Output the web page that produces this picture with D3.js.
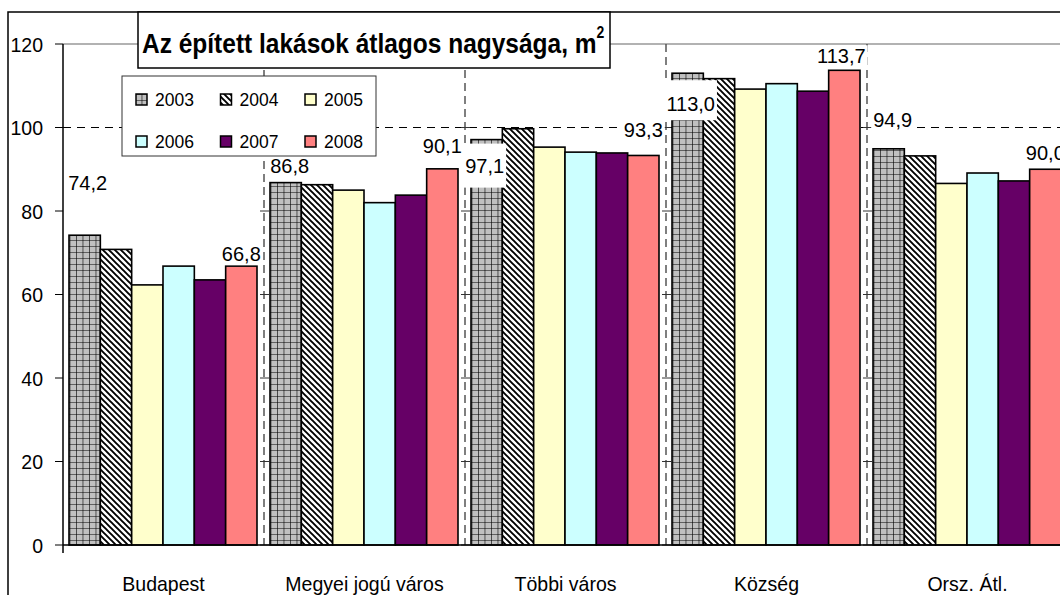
<!DOCTYPE html>
<html>
<head>
<meta charset="utf-8">
<script src="https://cdn.jsdelivr.net/npm/d3@7"></script>
<style>
  html, body { margin: 0; padding: 0; background: #fff; }
  svg { display: block; }
  text { font-family: "Liberation Sans", Arial, sans-serif; fill: #000; }
</style>
</head>
<body>
<svg id="chart" width="1060" height="595"></svg>
<script>
// Average floor area of newly built dwellings, m², by settlement type
const categories = ["Budapest", "Megyei jogú város", "Többi város", "Község", "Orsz. Átl."];
const years = ["2003", "2004", "2005", "2006", "2007", "2008"];
const s2003 = [74.2, 86.8, 97.1, 113.0, 94.9];
const s2004 = [70.8, 86.3, 99.7, 111.7, 93.2];
const s2005 = [62.3, 85.0, 95.3, 109.2, 86.6];
const s2006 = [66.8, 82.0, 94.1, 110.5, 89.1];
const s2007 = [63.5, 83.8, 93.9, 108.7, 87.2];
const s2008 = [66.8, 90.1, 93.3, 113.7, 90.0];
const yTicks = [0, 20, 40, 60, 80, 100, 120];
const titleText = "Az épített lakások átlagos nagysága, m";

// label placement: [dx, dy] from the top centre of the labelled bar,
// then how far the white label box reaches above / below the baseline
const labelNudge2003 = [[3, -45, 18, 4], [4, -10, 18, 4], [-2, 33, 29, 15], [3, 38, 31, 9], [4, -22, 18, 4]];
const labelNudge2008 = [[0, -5, 18, 4], [0, -16, 18, 4], [0, -18, 18, 4], [-3, -7, 18, 4], [0, -9, 18, 4]];

const series = [s2003, s2004, s2005, s2006, s2007, s2008];
const fills = ["url(#grid)", "url(#diag)", "#ffffcc", "#ccffff", "#660066", "#ff8080"];

const svg = d3.select("#chart");
const defs = svg.append("defs");

// 2003: grey with black cross-hatch grid
const pg = defs.append("pattern").attr("id", "grid").attr("patternUnits", "userSpaceOnUse")
  .attr("width", 6.5).attr("height", 6);
pg.append("rect").attr("width", 6.5).attr("height", 6).attr("fill", "#c0c0c0");
pg.append("path").attr("d", "M0,0 H6.5 M0,0 V6").attr("stroke", "#000").attr("stroke-width", 1.2);
// 2004: white with diagonal stripes
const pd = defs.append("pattern").attr("id", "diag").attr("patternUnits", "userSpaceOnUse")
  .attr("width", 6).attr("height", 6);
pd.append("rect").attr("width", 6).attr("height", 6).attr("fill", "#fff");
pd.append("path").attr("d", "M-1,-1 L7,7 M5,-1 L7,1 M-1,5 L1,7")
  .attr("stroke", "#000").attr("stroke-width", 1.9);

const plot = { left: 63, right: 1068, top: 44, bottom: 545 };

const x = d3.scaleBand().domain(categories).range([plot.left, plot.right]).padding(0);
const xi = d3.scaleBand().domain(years).range([6, x.bandwidth() - 7]).padding(0);
const y = d3.scaleLinear().domain([0, 120]).range([plot.bottom, plot.top]);

// text helper with slight horizontal condensing
function label(g, tx, ty, str, size, anchor, sx, weight) {
  const t = g.append("text")
    .attr("transform", `translate(${tx},${ty}) scale(${sx},1)`)
    .attr("text-anchor", anchor)
    .style("font-size", size + "px")
    .text(str);
  if (weight) t.style("font-weight", weight);
  return t;
}

// outer frame
svg.append("rect").attr("x", 8).attr("y", 12).attr("width", 1080).attr("height", 620)
  .attr("fill", "#fff").attr("stroke", "#000").attr("stroke-width", 1.5);

// plot top border
svg.append("line").attr("x1", plot.left).attr("x2", plot.right + 10)
  .attr("y1", y(120)).attr("y2", y(120)).attr("stroke", "#999").attr("stroke-width", 1.5);

// dashed gridline at 100
svg.append("line").attr("x1", plot.left).attr("x2", plot.right + 10)
  .attr("y1", y(100)).attr("y2", y(100))
  .attr("stroke", "#000").attr("stroke-width", 1).attr("stroke-dasharray", "8,6");

// dashed category separators with small ticks
const seps = categories.slice(1).map(c => x(c));
svg.selectAll("line.sep").data(seps).join("line").attr("class", "sep")
  .attr("x1", d => d).attr("x2", d => d).attr("y1", plot.top).attr("y2", plot.bottom)
  .attr("stroke", "#555").attr("stroke-width", 1.5).attr("stroke-dasharray", "8,5");
seps.forEach(sx => {
  svg.selectAll(null).data(yTicks.slice(0, 6)).join("line")
    .attr("x1", sx - 4).attr("x2", sx + 5).attr("y1", d => y(d)).attr("y2", d => y(d))
    .attr("stroke", "#333").attr("stroke-width", 1);
});

// bars
const groups = svg.selectAll("g.cat").data(categories).join("g").attr("class", "cat")
  .attr("transform", d => `translate(${x(d)},0)`);
groups.selectAll("rect").data((c, i) => years.map((yr, k) => ({ yr, k, v: series[k][i] })))
  .join("rect")
  .attr("x", d => xi(d.yr)).attr("width", xi.bandwidth())
  .attr("y", d => y(d.v)).attr("height", d => y(0) - y(d.v))
  .attr("fill", d => fills[d.k]).attr("stroke", "#000").attr("stroke-width", 1.6);

// axes
const yAxis = svg.append("g").attr("transform", `translate(${plot.left},0)`);
yAxis.append("line").attr("x1", 0).attr("x2", 0).attr("y1", plot.top).attr("y2", plot.bottom + 8)
  .attr("stroke", "#000").attr("stroke-width", 1.5);
yAxis.selectAll("line.tk").data(yTicks).join("line").attr("class", "tk")
  .attr("x1", -8).attr("x2", 0).attr("y1", d => y(d)).attr("y2", d => y(d))
  .attr("stroke", "#000").attr("stroke-width", 1);
yTicks.forEach(t => label(yAxis, -20, y(t) + 7.5, String(t), 21, "end", 0.93));

svg.append("line").attr("x1", plot.left).attr("x2", plot.right + 10)
  .attr("y1", plot.bottom).attr("y2", plot.bottom).attr("stroke", "#000").attr("stroke-width", 1.5);

categories.forEach(c => label(svg, x(c) + x.bandwidth() / 2, 591, c, 21, "middle", 0.93));

// value labels with white backgrounds
const fmt = v => d3.format(".1f")(v).replace(".", ",");
function valueLabel(ci, k, nudge) {
  const v = series[k][ci];
  const cx = x(categories[ci]) + xi(years[k]) + xi.bandwidth() / 2 + nudge[0];
  const by = y(v) + nudge[1];
  const g = svg.append("g");
  const bg = g.append("rect").attr("fill", "#fff");
  const t = label(g, cx, by, fmt(v), 20, "middle", 1);
  const bb = t.node().getBBox();
  const w = bb.width + 4;
  bg.attr("x", cx - w / 2).attr("width", w).attr("y", by - nudge[2]).attr("height", nudge[2] + nudge[3]);
}
categories.forEach((c, i) => {
  valueLabel(i, 0, labelNudge2003[i]);
  valueLabel(i, 5, labelNudge2008[i]);
});

// title box
svg.append("rect").attr("x", 138).attr("y", 12).attr("width", 472).attr("height", 56)
  .attr("fill", "#fff").attr("stroke", "#000").attr("stroke-width", 1.5);
const tt = svg.append("text")
  .attr("transform", "translate(142,53) scale(0.875,1)")
  .style("font-size", "28px").style("font-weight", "bold");
tt.append("tspan").text(titleText);
tt.append("tspan").attr("dy", -15).style("font-size", "16px").text("2");

// legend
const lg = svg.append("g").attr("transform", "translate(122,76)");
lg.append("rect").attr("width", 254).attr("height", 80).attr("fill", "#fff")
  .attr("stroke", "#333").attr("stroke-width", 1);
years.forEach((yr, k) => {
  const col = k % 3, row = Math.floor(k / 3);
  const gx = 14 + col * 84.5, gy = 18 + row * 42;
  lg.append("rect").attr("x", gx).attr("y", gy).attr("width", 11).attr("height", 11)
    .attr("fill", fills[k]).attr("stroke", "#000").attr("stroke-width", 1.5);
  label(lg, gx + 19, gy + 11.5, yr, 17.5, "start", 1);
});
</script>
</body>
</html>
